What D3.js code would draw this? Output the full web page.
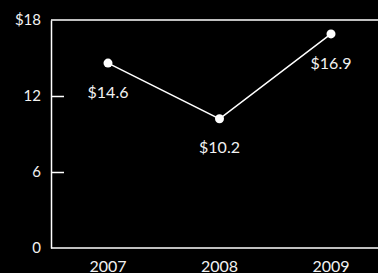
<!DOCTYPE html>
<html>
<head>
<meta charset="utf-8">
<script src="https://cdn.jsdelivr.net/npm/d3@7"></script>
<style>
  html, body { margin: 0; padding: 0; background: #000; }
  svg { display: block; }
  text { font-family: Lato, "Open Sans", sans-serif; fill: #f2f2f2; }
</style>
</head>
<body>
<div class="chart"></div>
<script>
// data
var years = ["2007", "2008", "2009"];
var values = [14.6, 10.2, 16.9];
var yTicks = [0, 6, 12, 18];

var width = 378, height = 273;
var plotLeft = 51, plotRight = 378, plotTop = 20, plotBottom = 248;

var svg = d3.select(".chart")
  .append("svg")
  .attr("width", width)
  .attr("height", height);

var x = d3.scalePoint().domain(years).range([108, 331]);
var y = d3.scaleLinear().domain([0, 18]).range([plotBottom, plotTop]);

// left axis, ticks pointing inward
var yAxis = svg.append("g")
  .attr("transform", "translate(" + plotLeft + ",0)")
  .call(d3.axisLeft(y)
    .tickValues(yTicks)
    .tickSizeInner(-13)
    .tickSizeOuter(0)
    .tickPadding(10)
    .tickFormat(function (d) { return d == 18 ? "$18" : d; }));

yAxis.select(".domain").attr("stroke", "#fff").attr("stroke-width", 1.5);
yAxis.selectAll(".tick line").attr("stroke", "#fff").attr("stroke-width", 1.5)
  .filter(function (d) { return d == 0 || d == 18; }).remove();
yAxis.selectAll(".tick text")
  .style("font-size", "15px")
  .attr("fill", "#f2f2f2")
  .attr("font-family", null);

// top and bottom rules
svg.append("line")
  .attr("x1", plotLeft).attr("x2", plotRight)
  .attr("y1", y(18)).attr("y2", y(18))
  .attr("stroke", "#fff").attr("stroke-width", 1.5);

svg.append("line")
  .attr("x1", plotLeft).attr("x2", plotRight)
  .attr("y1", y(0)).attr("y2", y(0))
  .attr("stroke", "#fff").attr("stroke-width", 1.5);

// year labels
svg.selectAll(".year")
  .data(years)
  .enter()
  .append("text")
  .attr("class", "year")
  .attr("x", function (d) { return x(d); })
  .attr("y", 272)
  .attr("text-anchor", "middle")
  .style("font-size", "16px")
  .text(function (d) { return d; });

var pts = years.map(function (d, i) { return { year: d, value: values[i] }; });

svg.append("path")
  .datum(pts)
  .attr("fill", "none")
  .attr("stroke", "#fff")
  .attr("stroke-width", 1.5)
  .attr("d", d3.line()
    .x(function (d) { return x(d.year); })
    .y(function (d) { return y(d.value); }));

svg.selectAll(".dot")
  .data(pts)
  .enter()
  .append("circle")
  .attr("class", "dot")
  .attr("cx", function (d) { return x(d.year); })
  .attr("cy", function (d) { return y(d.value); })
  .attr("r", 4.5)
  .attr("fill", "#fff");

svg.selectAll(".val")
  .data(pts)
  .enter()
  .append("text")
  .attr("class", "val")
  .attr("x", function (d) { return x(d.year); })
  .attr("y", function (d) { return y(d.value) + 29; })
  .attr("dy", "0.35em")
  .attr("text-anchor", "middle")
  .style("font-size", "16px")
  .text(function (d) { return "$" + d.value.toFixed(1); });
</script>
</body>
</html>
